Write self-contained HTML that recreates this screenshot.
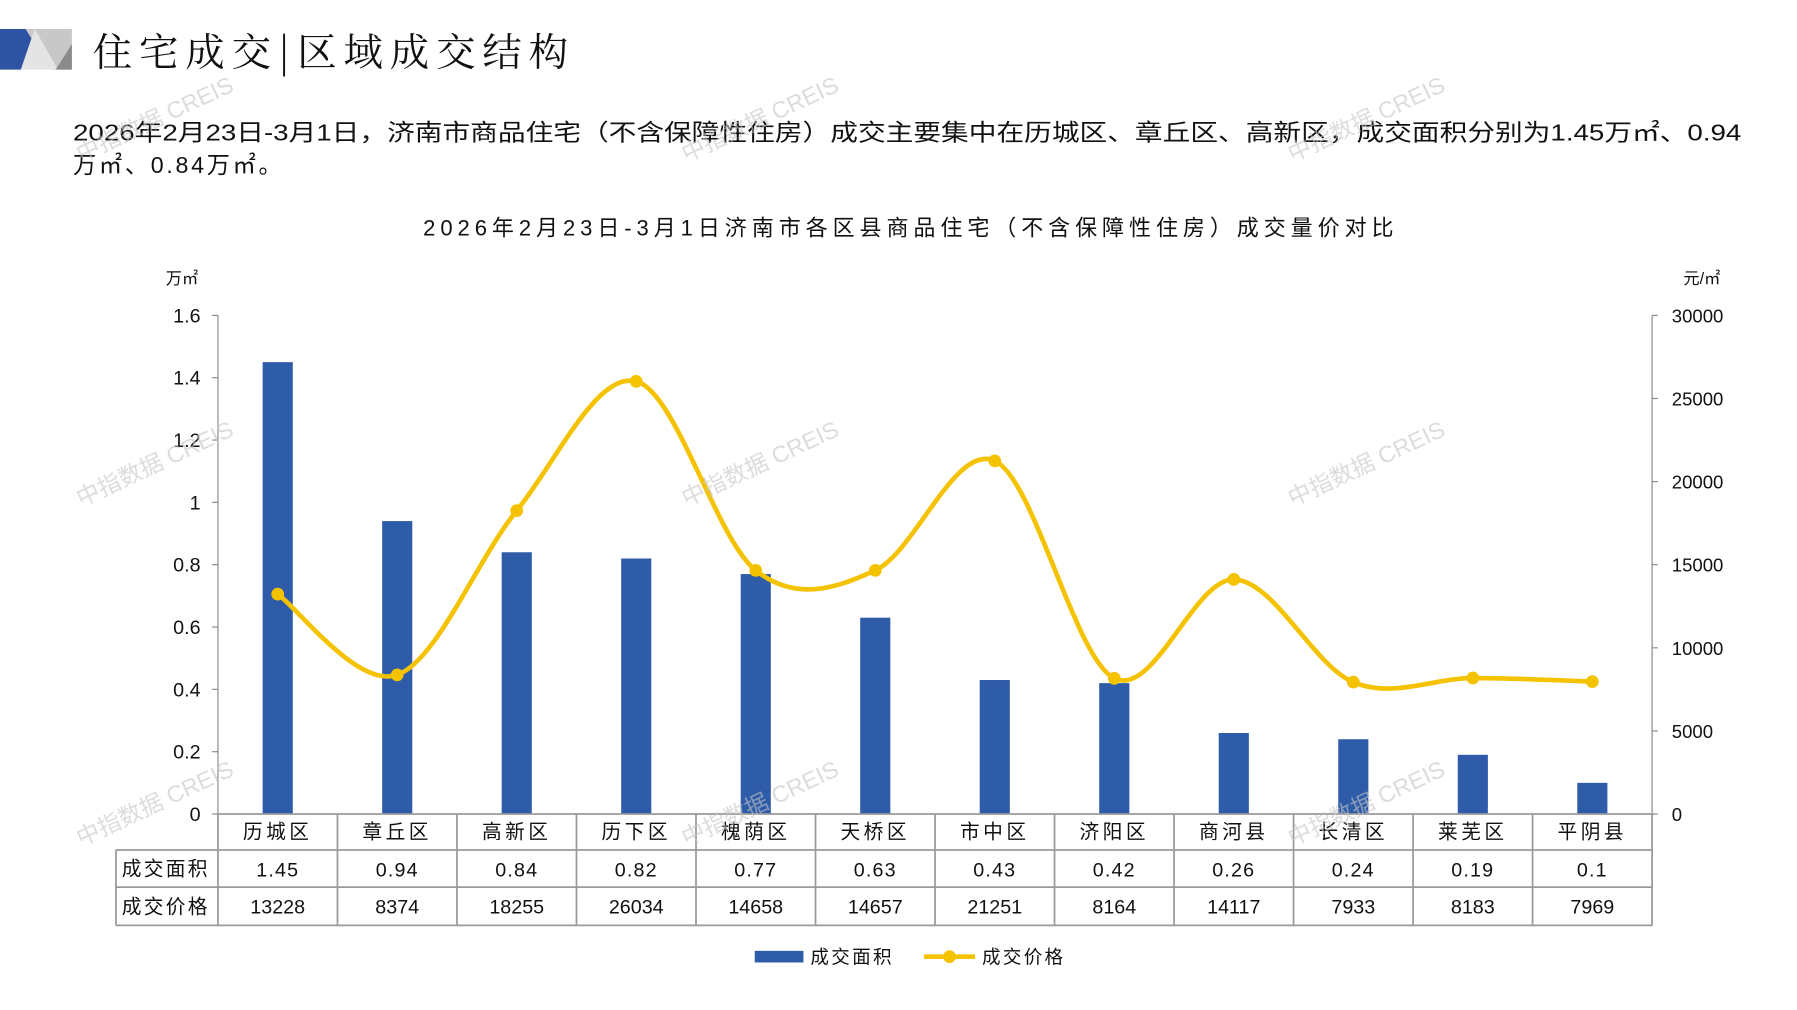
<!DOCTYPE html>
<html><head><meta charset="utf-8"><style>
html,body{margin:0;padding:0;background:#fff;}
svg{display:block;}
text{font-family:"Liberation Sans","Noto Sans CJK SC",sans-serif;fill:#111;}
</style></head><body>
<svg id="s" width="1797" height="1010" viewBox="0 0 1550 871" preserveAspectRatio="none" xmlns="http://www.w3.org/2000/svg">
<rect width="1550" height="871" fill="#fff"/>
<polygon points="0,25 30,25 18,60 0,60" fill="#2f53a3"/>
<polygon points="22,25 62,25 62,60 44,60" fill="#c8c8c8"/>
<polygon points="30,25 50,60 18,60" fill="#e4e4e4"/>
<polygon points="62,38 62,60 48,60" fill="#8a8a8a"/>
<text x="80" y="57" font-size="34" textLength="410" lengthAdjust="spacing" style="font-family:'Noto Serif CJK SC','Noto Sans CJK SC',serif">住宅成交|区域成交结构</text>
<text x="63" y="121" font-size="20" fill="#222" textLength="1439" lengthAdjust="spacingAndGlyphs">2026年2月23日-3月1日，济南市商品住宅（不含保障性住房）成交主要集中在历城区、章丘区、高新区，成交面积分别为1.45万㎡、0.94</text>
<text x="63" y="149" font-size="20" fill="#222" textLength="180" lengthAdjust="spacing">万㎡、0.84万㎡。</text>
<text x="365" y="203" font-size="19" fill="#222" textLength="837" lengthAdjust="spacing">2026年2月23日-3月1日济南市各区县商品住宅（不含保障性住房）成交量价对比</text>
<text x="143" y="245" font-size="14">万㎡</text>
<text x="1452" y="245" font-size="14">元/㎡</text>
<g id="g"></g>
</svg>
<script>
var g=document.getElementById('g'),h='';
var names=['历城区','章丘区','高新区','历下区','槐荫区','天桥区','市中区','济阳区','商河县','长清区','莱芜区','平阴县'];
var area=[1.45,0.94,0.84,0.82,0.77,0.63,0.43,0.42,0.26,0.24,0.19,0.1];
var price=[13228,8374,18255,26034,14658,14657,21251,8164,14117,7933,8183,7969];
var L=188,R=1425,T=272,B=702,w=(R-L)/12;
h+='<line x1="'+L+'" y1="'+T+'" x2="'+L+'" y2="'+B+'" stroke="#888"/>';
h+='<line x1="'+R+'" y1="'+T+'" x2="'+R+'" y2="'+B+'" stroke="#888"/>';
for(var i=0;i<=8;i++){var y=B-i*(B-T)/8;var v=(i*0.2).toFixed(1);if(v=='0.0')v='0';if(v=='1.0')v='1';
h+='<line x1="'+(L-5)+'" y1="'+y+'" x2="'+L+'" y2="'+y+'" stroke="#888"/><text x="173" y="'+(y+6)+'" font-size="17" text-anchor="end">'+v+'</text>';}
for(var i=0;i<=6;i++){var y=B-i*(B-T)/6;h+='<line x1="'+R+'" y1="'+y+'" x2="'+(R+5)+'" y2="'+y+'" stroke="#888"/><text x="1442" y="'+(y+6)+'" font-size="16">'+(i*5000)+'</text>';}
var pts=[];
for(var i=0;i<12;i++){var cx=L+w*(i+0.5);var bh=area[i]/1.6*(B-T);
h+='<rect x="'+(cx-13)+'" y="'+(B-bh)+'" width="26" height="'+bh+'" fill="#2f5ca8"/>';
pts.push([cx,B-price[i]/30000*(B-T)]);}
var d='M'+pts[0][0]+','+pts[0][1];
for(var i=0;i<11;i++){var p0=pts[Math.max(0,i-1)],p1=pts[i],p2=pts[i+1],p3=pts[Math.min(11,i+2)];
d+=' C'+(p1[0]+(p2[0]-p0[0])/6)+','+(p1[1]+(p2[1]-p0[1])/6)+' '+(p2[0]-(p3[0]-p1[0])/6)+','+(p2[1]-(p3[1]-p1[1])/6)+' '+p2[0]+','+p2[1];}
h+='<path d="'+d+'" fill="none" stroke="#f5c200" stroke-width="4"/>';
pts.forEach(function(p){h+='<circle cx="'+p[0]+'" cy="'+p[1]+'" r="5.5" fill="#f5c200"/>';});
var rows=[702,733,765,798],TL=100;
h+='<g stroke="#999" stroke-width="1.5">';
rows.forEach(function(y,k){h+='<line x1="'+(k==0?L:TL)+'" y1="'+y+'" x2="'+R+'" y2="'+y+'"/>';});
h+='<line x1="'+TL+'" y1="733" x2="'+TL+'" y2="798"/>';
for(var i=0;i<=12;i++){var x=L+w*i;h+='<line x1="'+x+'" y1="702" x2="'+x+'" y2="798"/>';}
h+='</g>';
h+='<text x="143" y="755" font-size="17" text-anchor="middle" letter-spacing="2">成交面积</text><text x="143" y="788" font-size="17" text-anchor="middle" letter-spacing="2">成交价格</text>';
for(var i=0;i<12;i++){var cx=L+w*(i+0.5);
h+='<text x="'+cx+'" y="723" font-size="17" text-anchor="middle" letter-spacing="3">'+names[i]+'</text>';
h+='<text x="'+cx+'" y="756" font-size="17" text-anchor="middle" letter-spacing="1">'+area[i]+'</text>';
h+='<text x="'+cx+'" y="788" font-size="17" text-anchor="middle">'+price[i]+'</text>';}
h+='<rect x="651" y="820" width="42" height="10" fill="#2f5ca8"/><text x="699" y="831" font-size="16" letter-spacing="2">成交面积</text>';
h+='<line x1="797" y1="825" x2="841" y2="825" stroke="#f5c200" stroke-width="4"/><circle cx="819" cy="825" r="5.5" fill="#f5c200"/><text x="847" y="831" font-size="16" letter-spacing="2">成交价格</text>';
[[70,140],[592,140],[1115,140],[70,437],[592,437],[1115,437],[70,730],[592,730],[1115,730]].forEach(function(p){
h+='<text x="'+p[0]+'" y="'+p[1]+'" font-size="20" transform="rotate(-25 '+p[0]+' '+p[1]+')" style="fill:#c4c4c4;fill-opacity:0.6">中指数据 CREIS</text>';});
g.innerHTML=h;
</script>
</body></html>
